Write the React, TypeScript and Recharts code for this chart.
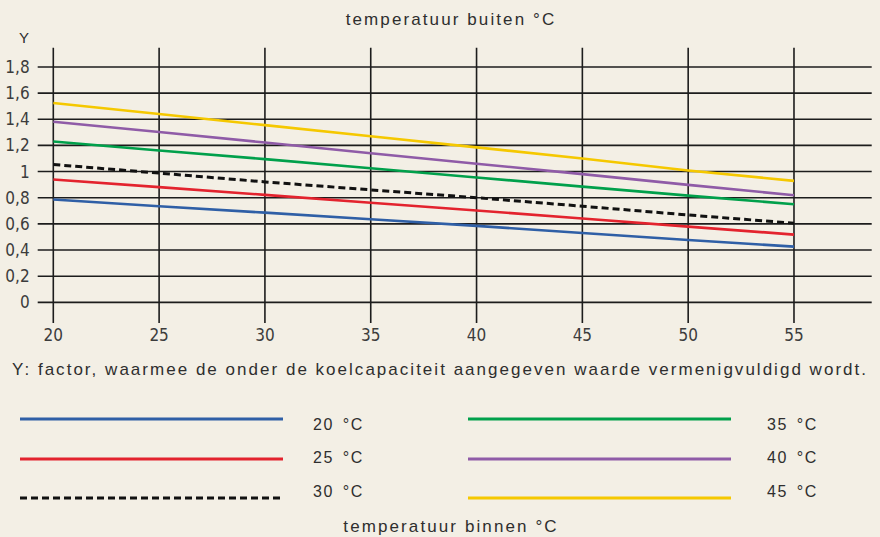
import { LineChart, Line, XAxis, YAxis, CartesianGrid } from 'recharts';

const outsideTemps = [20, 25, 30, 35, 40, 45, 50, 55];
const yTicks = [0, 0.2, 0.4, 0.6, 0.8, 1, 1.2, 1.4, 1.6, 1.8];

const t20 = [0.786, 0.735, 0.686, 0.635, 0.585, 0.53, 0.477, 0.426];
const t25 = [0.939, 0.881, 0.822, 0.762, 0.702, 0.641, 0.579, 0.518];
const t30 = [1.054, 0.988, 0.921, 0.86, 0.8, 0.735, 0.668, 0.605];
const t35 = [1.23, 1.161, 1.095, 1.025, 0.955, 0.885, 0.816, 0.75];
const t40 = [1.381, 1.302, 1.222, 1.14, 1.06, 0.98, 0.898, 0.819];
const t45 = [1.524, 1.44, 1.355, 1.27, 1.185, 1.1, 1.008, 0.929];

const series = [
  { key: 't20', label: '20 °C', values: t20, color: '#2f5fa6', dash: undefined },
  { key: 't25', label: '25 °C', values: t25, color: '#e3232e', dash: undefined },
  { key: 't30', label: '30 °C', values: t30, color: '#111111', dash: '7 4' },
  { key: 't35', label: '35 °C', values: t35, color: '#00a04b', dash: undefined },
  { key: 't40', label: '40 °C', values: t40, color: '#8f5ba7', dash: undefined },
  { key: 't45', label: '45 °C', values: t45, color: '#f5c800', dash: undefined },
];

const data = outsideTemps.map((t, i) => {
  const row: any = { t };
  series.forEach((s) => (row[s.key] = s.values[i]));
  return row;
});

const textFont = '"Liberation Sans", Arial, sans-serif';
const tickFont = '"Liberation Sans Narrow", "DejaVu Sans Condensed", sans-serif';
const ink = '#2e2e2e';

const fmt = (v: number) => String(v).replace('.', ',');

function LegendRow({ s, x, textX, lineY, textY }: any) {
  return (
    <>
      <svg style={{ position: 'absolute', left: x, top: lineY - 3 }} width={264} height={6}>
        <line x1={0} y1={3} x2={263} y2={3} stroke={s.color} strokeWidth={3} strokeDasharray={s.dash} />
      </svg>
      <div style={{ position: 'absolute', left: textX, top: textY, fontSize: 16, letterSpacing: 1.5, wordSpacing: 3, fontFamily: textFont, color: ink, lineHeight: '16px' }}>
        {s.label}
      </div>
    </>
  );
}

export default function App() {
  const rowsLine = [419, 458.5, 498];
  const rowsText = [417, 450, 484];
  return (
    <div style={{ position: 'fixed', left: 0, top: 0, width: 880, height: 537, background: '#f3efe5', overflow: 'hidden' }}>
      <div style={{ position: 'absolute', left: 0, width: 902, textAlign: 'center', top: 11, fontSize: 17, letterSpacing: 2.1, fontFamily: textFont, color: ink, lineHeight: '18px' }}>
        temperatuur buiten °C
      </div>
      <div style={{ position: 'absolute', left: 19, top: 30, fontSize: 15, fontFamily: textFont, color: ink, lineHeight: '15px' }}>Y</div>
      <div style={{ position: 'absolute', left: 0, top: 0 }}>
        <LineChart width={880} height={360} data={data} margin={{ top: 47.7, right: 8.3, left: 0, bottom: 7 }}>
          <CartesianGrid stroke="#1c1c1c" strokeWidth={1.6} syncWithTicks />
          <XAxis
            dataKey="t"
            type="number"
            domain={[19.263, 58.672]}
            ticks={outsideTemps}
            allowDataOverflow
            axisLine={false}
            tickLine={false}
            tickMargin={0}
            height={30}
            tick={{ fill: '#3c3c3c', fontSize: 17, fontFamily: tickFont }}
          />
          <YAxis
            type="number"
            domain={[-0.158, 1.947]}
            ticks={yTicks}
            allowDataOverflow
            axisLine={false}
            tickLine={false}
            width={37.7}
            tickFormatter={fmt}
            tick={{ fill: '#3c3c3c', fontSize: 17, fontFamily: tickFont }}
          />
          {series.map((s) => (
            <Line
              key={s.key}
              dataKey={s.key}
              type="linear"
              stroke={s.color}
              strokeWidth={s.dash ? 3 : 2.6}
              strokeDasharray={s.dash}
              dot={false}
              isAnimationActive={false}
            />
          ))}
        </LineChart>
      </div>
      <div style={{ position: 'absolute', left: 12, top: 361, fontSize: 17, letterSpacing: 2.02, fontFamily: textFont, color: ink, lineHeight: '18px', whiteSpace: 'nowrap' }}>
        Y: factor, waarmee de onder de koelcapaciteit aangegeven waarde vermenigvuldigd wordt.
      </div>
      {series.slice(0, 3).map((s, i) => (
        <LegendRow key={s.key} s={s} x={20} textX={313} lineY={rowsLine[i]} textY={rowsText[i]} />
      ))}
      {series.slice(3).map((s, i) => (
        <LegendRow key={s.key} s={s} x={468} textX={767} lineY={rowsLine[i]} textY={rowsText[i]} />
      ))}
      <div style={{ position: 'absolute', left: 0, width: 902, textAlign: 'center', top: 518, fontSize: 17, letterSpacing: 2.1, fontFamily: textFont, color: ink, lineHeight: '18px' }}>
        temperatuur binnen °C
      </div>
    </div>
  );
}
